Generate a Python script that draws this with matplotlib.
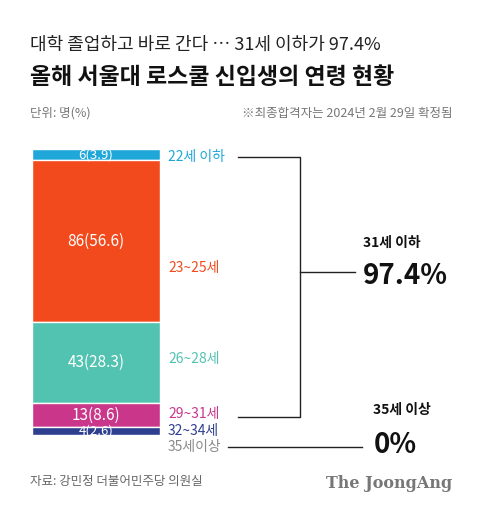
import matplotlib
matplotlib.use("Agg")
import matplotlib.pyplot as plt

plt.rcParams['font.family'] = ['Noto Sans CJK KR', 'DejaVu Sans']

groups = ["22세 이하", "23~25세", "26~28세", "29~31세", "32~34세", "35세이상"]
counts = [6, 86, 43, 13, 4, 0]
shares = [3.9, 56.6, 28.3, 8.6, 2.6, 0.0]
colors = ["#1ea7d8", "#f24a1c", "#52c3b1", "#c9368a", "#2e3f8f", "#8a8a8a"]
label_y = [157, 268, 359, 414, 431, 447]

fig = plt.figure(figsize=(4.8, 5.12), dpi=100)
W, H = 480, 512

ov = fig.add_axes([0, 0, 1, 1])
ov.set_xlim(0, W); ov.set_ylim(H, 0); ov.axis('off')

ax = fig.add_axes([32/W, 1-435/H, 128/W, (435-149)/H])
total = sum(counts)
bottom = 0
for c, s, col in zip(counts, shares, colors):
    if c > 0:
        ax.bar(0, c, bottom=bottom, width=1, color=col, edgecolor='white', linewidth=1)
        ax.text(0, bottom + c/2, f"{c}({s})", ha='center', va='center',
                color='white', fontsize=11 if c > 10 else 9.5, fontweight='medium')
    bottom += c
ax.set_ylim(total, 0); ax.set_xlim(-0.5, 0.5); ax.axis('off')

ov.text(30, 45, "대학 졸업하고 바로 간다 … 31세 이하가 97.4%", fontsize=13, va='center', color='#222')
ov.text(30, 78, "올해 서울대 로스쿨 신입생의 연령 현황", fontsize=16.5, fontweight='bold', va='center', color='#111')
ov.text(30, 113, "단위: 명(%)", fontsize=9, va='center', color='#777')
ov.text(452, 113, "※최종합격자는 2024년 2월 29일 확정됨", fontsize=9, va='center', ha='right', color='#777')

for g, y, col in zip(groups, label_y, colors):
    ov.text(168, y, g, fontsize=10, va='center', color=col)

lc = '#222'
ov.plot([238, 300, 300, 238], [157, 157, 417, 417], color=lc, lw=1)
ov.plot([300, 355], [272, 272], color=lc, lw=1)
ov.plot([228, 362], [447, 447], color=lc, lw=1)
ov.text(392, 243, "31세 이하", fontsize=10, fontweight='bold', ha='center', va='center', color='#111')
ov.text(405, 276, "97.4%", fontsize=20, fontweight='bold', ha='center', va='center', color='#111')
ov.text(402, 410, "35세 이상", fontsize=10, fontweight='bold', ha='center', va='center', color='#111')
ov.text(395, 445, "0%", fontsize=20, fontweight='bold', ha='center', va='center', color='#111')

ov.text(30, 482, "자료: 강민정 더불어민주당 의원실", fontsize=9, va='center', color='#666')
ov.text(452, 484, "The JoongAng", fontsize=11.5, fontweight='bold', family='DejaVu Serif',
        ha='right', va='center', color='#777')

fig.savefig("out.png", dpi=100)
